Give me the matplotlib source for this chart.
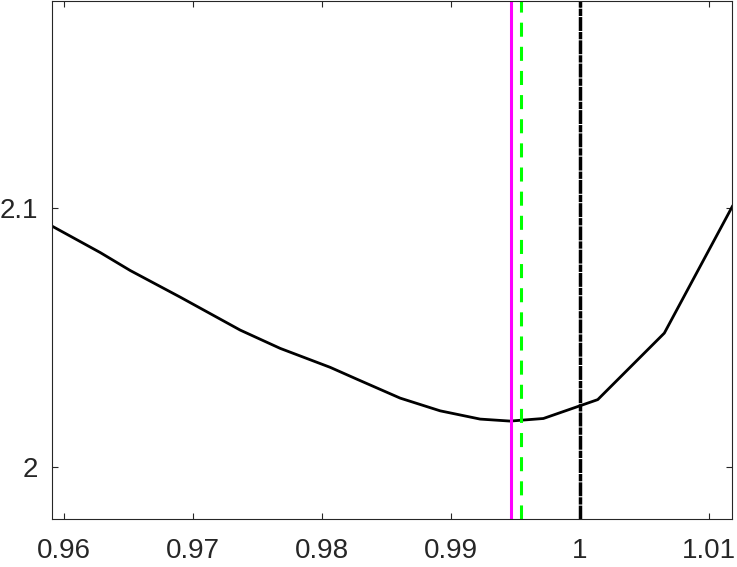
import numpy as np
import matplotlib
matplotlib.use('Agg')
import matplotlib.pyplot as plt

# curve
x_curve = [0.959125, 0.962843, 0.965167, 0.969041, 0.973689, 0.976788, 0.980662,
           0.982754, 0.986085, 0.989184, 0.992283, 0.994607, 0.997187, 1.001400,
           1.006560, 1.011828]
y_curve = [2.09291, 2.08275, 2.07582, 2.06554, 2.05282, 2.04576, 2.03844,
           2.03382, 2.02656, 2.02165, 2.01846, 2.01769, 2.01869, 2.02598,
           2.05166, 2.10054]

x_magenta = 0.99471
x_green = 0.99548
x_black = 1.0

xticks = [0.96, 0.97, 0.98, 0.99, 1.0, 1.01]
xtick_labels = ['0.96', '0.97', '0.98', '0.99', '1', '1.01']
yticks = [2.0, 2.1]
ytick_labels = ['2', '2.1']

axis_color = '#262626'
plt.rcParams['font.family'] = ['Liberation Sans', 'DejaVu Sans']

fig = plt.figure(figsize=(7.37, 5.67), dpi=100)
ax = fig.add_axes([52.3 / 737, 48.3 / 567, 680.0 / 737, 518.0 / 567])

ax.plot(x_curve, y_curve, color='black', linewidth=2.0, solid_joinstyle='round')
ax.axvline(x_magenta, color='#ff00ff', linewidth=2.2)
ax.axvline(x_green, color='#00ff00', linewidth=2.2, linestyle=(0, (4.6, 3.3)))
ax.axvline(x_black, color='black', linewidth=2.5, linestyle=(0, (4.0, 0.3, 2.1, 0.3)))

ax.set_xlim(0.959125, 1.011828)
ax.set_ylim(1.98, 2.18)
ax.set_xticks(xticks)
ax.set_xticklabels(xtick_labels)
ax.set_yticks(yticks)
ax.set_yticklabels(ytick_labels)

ax.tick_params(axis='both', which='major', direction='in', length=4.3, width=0.8,
               colors=axis_color, labelsize=20, top=True, right=True)
ax.tick_params(axis='x', pad=14)
ax.tick_params(axis='y', pad=10)
for s in ax.spines.values():
    s.set_color(axis_color)
    s.set_linewidth(0.8)

fig.savefig('out.png', dpi=100)
